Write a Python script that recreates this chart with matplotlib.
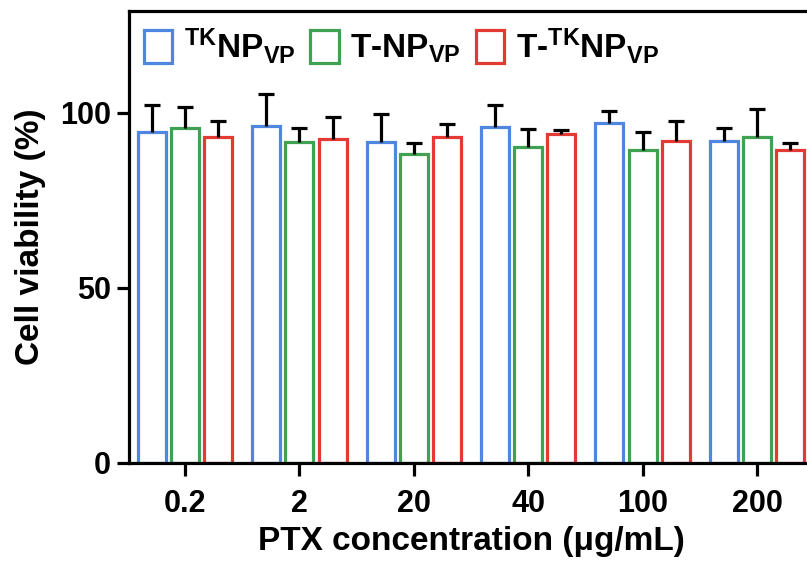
import numpy as np
import matplotlib
matplotlib.use('Agg')
import matplotlib.pyplot as plt
from matplotlib.patches import Patch

plt.rcParams['font.family'] = ['Liberation Sans', 'DejaVu Sans']
plt.rcParams['font.weight'] = 'bold'
plt.rcParams['axes.labelweight'] = 'bold'
plt.rcParams['mathtext.fontset'] = 'custom'
plt.rcParams['mathtext.rm'] = 'Liberation Sans:bold'
plt.rcParams['mathtext.it'] = 'Liberation Sans:bold'
plt.rcParams['mathtext.bf'] = 'Liberation Sans:bold'
plt.rcParams['mathtext.default'] = 'rm'

# data
concentrations = ['0.2', '2', '20', '40', '100', '200']
groups = ['$^{TK}$NP$_{VP}$', 'T-NP$_{VP}$', 'T-$^{TK}$NP$_{VP}$']
tk_np = [94.4, 96.1, 91.6, 95.8, 97.0, 92.0]
tk_np_err = [7.9, 9.3, 8.1, 6.5, 3.6, 3.6]
t_np = [95.6, 91.6, 88.3, 90.1, 89.2, 93.0]
t_np_err = [5.9, 4.0, 3.0, 5.2, 5.3, 8.0]
t_tk_np = [92.9, 92.5, 92.9, 94.0, 91.8, 89.2]
t_tk_np_err = [4.8, 6.2, 3.9, 0.9, 5.7, 2.1]

colors = ['#4F86E0', '#41A152', '#E33A33']
values = [tk_np, t_np, t_tk_np]
errors = [tk_np_err, t_np_err, t_tk_np_err]

fig = plt.figure(figsize=(8.07, 5.63), dpi=100)
# right edge of the frame runs off the picture, as in the original
ax = fig.add_axes([129 / 807, 100 / 563, 684 / 807, 452 / 563])

x = np.arange(len(concentrations))
offsets = [-0.29, 0.0, 0.29]
for vals, errs, col, off, lab in zip(values, errors, colors, offsets, groups):
    vals = np.array(vals)
    errs = np.array(errs)
    ax.bar(x + off, vals, width=0.245, facecolor='white', edgecolor=col,
           linewidth=2.3, label=lab, zorder=2)
    ax.vlines(x + off, vals, vals + errs, color='black', linewidth=2.3, zorder=3)
    ax.plot(x + off, vals + errs, ls='none', marker='_', markersize=11.5,
            mew=2.3, color='black', zorder=3)

ax.set_xlim(-0.49, len(concentrations) - 0.51)
ax.set_ylim(0, 129)
ax.set_yticks([0, 50, 100])
ax.set_xticks(x)
ax.set_xticklabels(concentrations)

for s in ax.spines.values():
    s.set_linewidth(2.3)
ax.tick_params(axis='both', direction='out', length=9, width=2.3,
               labelsize=22, pad=4)
ax.tick_params(axis='x', pad=10)

ax.set_xlabel('PTX concentration (μg/mL)', fontsize=24, fontweight='bold', labelpad=5)
ax.set_ylabel('Cell viability (%)', fontsize=24, fontweight='bold', labelpad=10)

handles = [Patch(facecolor='white', edgecolor=c, linewidth=2.3) for c in colors]
ax.legend(handles, groups, loc='upper left', bbox_to_anchor=(0.0, 1.0),
          ncol=3, frameon=False, fontsize=24, handlelength=0.85,
          handleheight=1.15, handletextpad=0.35, columnspacing=0.45,
          borderaxespad=0.15, borderpad=0.3)

fig.savefig('out.png', dpi=100)
